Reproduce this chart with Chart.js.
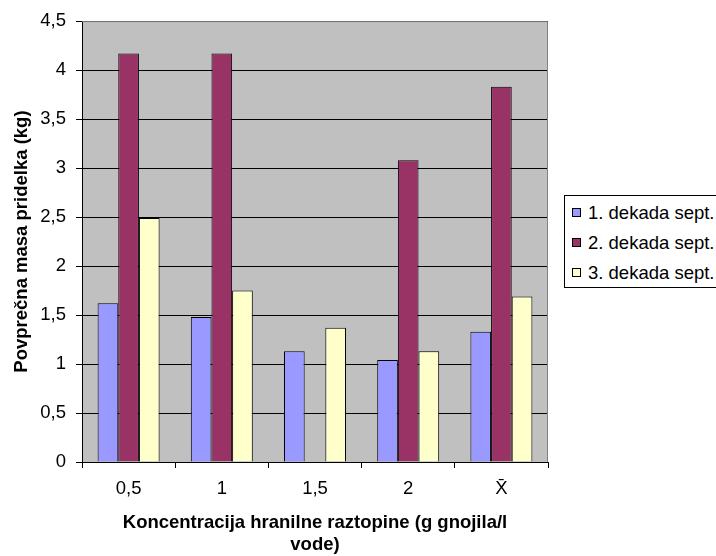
<!DOCTYPE html>
<html>
<head>
<meta charset="utf-8">
<script src="https://cdn.jsdelivr.net/npm/chart.js@4/dist/chart.umd.min.js"></script>
<style>
html,body{margin:0;padding:0;background:#fff;overflow:hidden;width:716px;height:556px;}
#wrap{position:relative;width:716px;height:556px;overflow:hidden;}
#c{position:absolute;left:0;top:0;}
#legend{position:absolute;left:564px;top:195px;width:180px;height:93px;box-sizing:border-box;border:1px solid #000;background:#fff;padding-top:2px;font-family:"Liberation Sans",Arial,sans-serif;font-size:18.5px;color:#000;}
.item{position:relative;height:30px;line-height:30px;padding-left:23px;white-space:nowrap;}
.sw{position:absolute;left:7px;top:10px;width:7px;height:7px;border:1px solid #000;}
</style>
</head>
<body>
<div id="wrap">
<canvas id="c" width="716" height="556"></canvas>
<div id="legend"></div>
</div>
<script>
// ---- data ----
const categories = ['0,5', '1', '1,5', '2', 'X\u0304'];
const seriesNames = ['1. dekada sept.', '2. dekada sept.', '3. dekada sept.'];
const series1 = [1.62, 1.48, 1.13, 1.04, 1.33];
const series2 = [4.17, 4.17, null, 3.08, 3.83];
const series3 = [2.49, 1.75, 1.37, 1.13, 1.69];
const yTickLabels = ['0', '0,5', '1', '1,5', '2', '2,5', '3', '3,5', '4', '4,5'];
const xTitle = ['Koncentracija hranilne raztopine (g gnojila/l', 'vode)'];
const yTitle = 'Povprečna masa pridelka (kg)';
const seriesColors = ['#9999FF', '#993366', '#FFFFCC'];

const FONT = '"Liberation Sans", Arial, sans-serif';
const FS = 18.5;

const plotBg = {
  id: 'plotBg',
  beforeDraw(chart) {
    const a = chart.chartArea, ctx = chart.ctx;
    ctx.save();
    ctx.fillStyle = '#C0C0C0';
    ctx.fillRect(a.left, a.top, a.right - a.left, a.bottom - a.top);
    ctx.restore();
  },
  afterDatasetsDraw(chart) {
    const a = chart.chartArea, ctx = chart.ctx;
    ctx.save();
    ctx.strokeStyle = '#808080';
    ctx.lineWidth = 1;
    ctx.beginPath();
    ctx.moveTo(a.left, a.top + 0.5);
    ctx.lineTo(a.right - 0.5, a.top + 0.5);
    ctx.lineTo(a.right - 0.5, a.bottom);
    ctx.stroke();
    ctx.restore();
  }
};

const datasets = [series1, series2, series3].map((d, i) => ({
  label: seriesNames[i],
  data: d,
  backgroundColor: seriesColors[i],
  borderColor: '#000',
  borderWidth: 1,
  categoryPercentage: 0.665,
  barPercentage: 1.0
}));

new Chart(document.getElementById('c'), {
  type: 'bar',
  data: { labels: categories, datasets },
  plugins: [plotBg],
  options: {
    responsive: false,
    animation: false,
    layout: { padding: { left: 0, right: 168, top: 21, bottom: 0 } },
    plugins: { legend: { display: false }, tooltip: { enabled: false } },
    scales: {
      x: {
        afterFit(s) { s.height = 94; },
        grid: { display: true, drawOnChartArea: false, drawTicks: true, tickLength: 6, color: '#000', offset: true },
        border: { color: '#000', width: 1 },
        ticks: { color: '#000', font: { family: FONT, size: FS }, padding: 10, maxRotation: 0, autoSkip: false },
        title: { display: true, text: xTitle, color: '#000', font: { family: FONT, size: FS, weight: 'bold', lineHeight: 22 / FS }, padding: { top: 0, bottom: 0 } }
      },
      y: {
        min: 0, max: 4.5,
        afterFit(s) { s.width = 82; },
        grid: { color: '#000', lineWidth: 1, tickLength: 6, drawTicks: true },
        border: { color: '#000', width: 1 },
        ticks: {
          stepSize: 0.5, color: '#000', padding: 10,
          font: { family: FONT, size: FS },
          callback: (v, i) => yTickLabels[i]
        },
        title: { display: true, text: yTitle, color: '#000', font: { family: FONT, size: FS, weight: 'bold' }, padding: { top: 11, bottom: 0 } }
      }
    }
  }
});

// HTML legend built from the series arrays
const lg = document.getElementById('legend');
seriesNames.forEach((n, i) => {
  const row = document.createElement('div');
  row.className = 'item';
  const sw = document.createElement('span');
  sw.className = 'sw';
  sw.style.background = seriesColors[i];
  row.appendChild(sw);
  row.appendChild(document.createTextNode(n));
  lg.appendChild(row);
});
</script>
</body>
</html>
